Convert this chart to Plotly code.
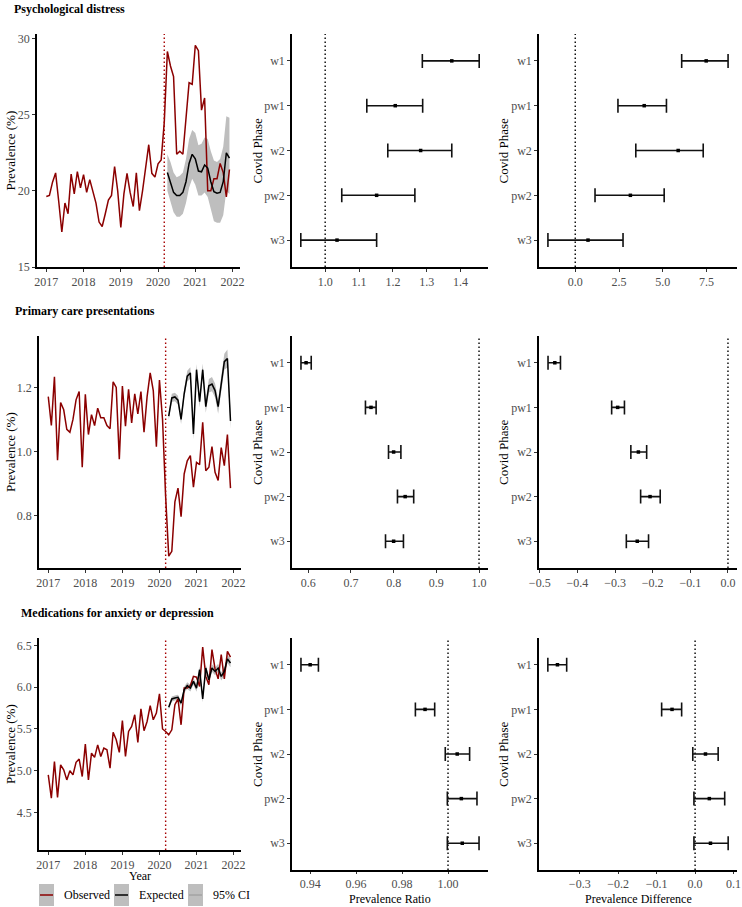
import plotly.graph_objects as go

W, H = 742, 907
FONT = "Liberation Serif"

# ---------------- data ----------------
years_tick = [2017, 2018, 2019, 2020, 2021, 2022]
month_idx = list(range(60))           # Jan 2017 .. Dec 2021
exp_idx = list(range(39, 60))         # Apr 2020 .. Dec 2021
covid_start = 2020 + 2 / 12           # March 2020

ps_obs = [19.63, 19.7, 20.57, 21.18, 19.3, 17.3, 19.2, 18.5, 21.1, 19.8,
          21.27, 20.2, 21.07, 19.9, 20.74, 19.9, 19.2, 17.95, 17.66, 18.5,
          19.4, 19.7, 21.6, 20.0, 17.6, 19.8, 21.15, 19.9, 18.97, 21.18,
          18.7, 20.0, 21.55, 23.03, 21.15, 20.9, 21.77, 22.03, 24.5, 29.15,
          28.2, 27.5, 22.4, 22.6, 22.4, 24.9, 27.1, 27.0, 29.56, 29.2,
          25.3, 26.1, 20.0, 20.0, 20.8, 20.8, 21.8, 21.2, 19.6, 21.4]
ps_exp = [21.2, 20.5, 19.9, 19.7, 19.7, 19.9, 20.6, 21.8, 22.4, 22.1, 21.3,
          21.25, 21.7, 21.5, 20.6, 19.95, 19.85, 19.9, 20.6, 22.5, 22.15]
ps_hi = [22.4, 21.9, 21.2, 20.9, 21.0, 21.2, 22.1, 23.4, 24.0, 23.8, 23.0,
         23.1, 23.5, 23.4, 22.6, 22.0, 21.9, 22.1, 22.9, 24.9, 24.8]
ps_lo = [20.0, 19.2, 18.6, 18.3, 18.3, 18.5, 19.2, 20.2, 20.8, 20.4, 19.7,
         19.7, 19.9, 19.6, 18.7, 18.0, 17.9, 17.9, 18.4, 20.0, 19.8]

mc_obs = [1.171, 1.081, 1.233, 0.973, 1.153, 1.13, 1.069, 1.06, 1.10, 1.161,
          1.187, 0.951, 1.178, 1.053, 1.115, 1.081, 1.135, 1.105, 1.105, 1.081,
          1.071, 1.217, 1.2, 0.976, 1.204, 1.079, 1.194, 1.089, 1.18, 1.117,
          1.187, 1.06, 1.171, 1.245, 1.19, 1.015, 1.223, 1.10, 0.86, 0.674,
          0.689, 0.843, 0.886, 0.797, 0.93, 0.971, 0.987, 0.889, 0.966, 0.959,
          1.091, 0.94, 0.951, 1.015, 0.935, 0.91, 1.012, 0.956, 1.053, 0.886]
mc_exp = [1.11, 1.167, 1.17, 1.16, 1.10, 1.18, 1.235, 1.245, 1.055, 1.255, 1.155,
          1.255, 1.14, 1.205, 1.21, 1.19, 1.14, 1.21, 1.28, 1.29, 1.095]
mc_hi = [1.122, 1.18, 1.183, 1.174, 1.114, 1.195, 1.252, 1.263, 1.072, 1.273, 1.173,
         1.274, 1.159, 1.226, 1.232, 1.212, 1.162, 1.234, 1.305, 1.318, 1.12]
mc_lo = [1.098, 1.154, 1.157, 1.146, 1.086, 1.165, 1.218, 1.227, 1.038, 1.237, 1.137,
         1.236, 1.121, 1.184, 1.188, 1.168, 1.118, 1.186, 1.255, 1.262, 1.07]

md_obs = [4.95, 4.67, 5.11, 4.68, 5.07, 5.01, 4.89, 5.0, 4.95, 5.1,
          5.14, 4.93, 5.32, 4.89, 5.21, 5.16, 5.31, 5.17, 5.27, 5.25,
          5.03, 5.46, 5.37, 5.22, 5.6, 5.17, 5.47, 5.53, 5.67, 5.34,
          5.74, 5.48, 5.59, 5.78, 5.61, 5.69, 5.92, 5.5, 5.47, 5.43,
          5.49, 5.79, 5.86, 5.55, 5.99, 5.99, 6.02, 6.13, 6.12, 6.01,
          6.48, 6.13, 6.03, 6.45, 6.22, 6.1, 6.39, 6.1, 6.43, 6.36]
md_exp = [5.76, 5.86, 5.87, 5.88, 5.81, 5.97, 6.02, 5.99, 6.07, 5.99, 6.21,
          5.86, 6.23, 6.09, 6.23, 6.19, 6.23, 6.13, 6.19, 6.34, 6.29]
md_hi = [5.79, 5.89, 5.9, 5.91, 5.845, 6.005, 6.06, 6.03, 6.11, 6.035, 6.25,
         5.9, 6.27, 6.135, 6.275, 6.235, 6.28, 6.18, 6.24, 6.39, 6.34]
md_lo = [5.73, 5.83, 5.84, 5.85, 5.775, 5.935, 5.98, 5.95, 6.03, 5.945, 6.17,
         5.82, 6.19, 6.045, 6.185, 6.145, 6.18, 6.08, 6.14, 6.29, 6.24]

phases = ["w1", "pw1", "w2", "pw2", "w3"]

ps_pr = [1.374, 1.207, 1.282, 1.152, 1.035]
ps_pr_lo = [1.287, 1.123, 1.185, 1.049, 0.928]
ps_pr_hi = [1.455, 1.288, 1.374, 1.265, 1.152]
ps_pd = [7.48, 3.94, 5.88, 3.15, 0.73]
ps_pd_lo = [6.08, 2.44, 3.46, 1.13, -1.56]
ps_pd_hi = [8.73, 5.21, 7.31, 5.08, 2.73]

mc_pr = [0.595, 0.747, 0.800, 0.827, 0.800]
mc_pr_lo = [0.583, 0.734, 0.788, 0.809, 0.781]
mc_pr_hi = [0.607, 0.759, 0.817, 0.847, 0.823]
mc_pd = [-0.460, -0.293, -0.238, -0.207, -0.241]
mc_pd_lo = [-0.478, -0.309, -0.258, -0.232, -0.270]
mc_pd_hi = [-0.445, -0.275, -0.216, -0.180, -0.211]

md_pr = [0.940, 0.990, 1.004, 1.0058, 1.0062]
md_pr_lo = [0.936, 0.9858, 0.9988, 0.9997, 0.9997]
md_pr_hi = [0.9436, 0.9942, 1.0094, 1.0126, 1.0135]
md_pd = [-0.358, -0.060, 0.027, 0.037, 0.040]
md_pd_lo = [-0.383, -0.087, -0.006, -0.003, -0.003]
md_pd_hi = [-0.334, -0.035, 0.060, 0.077, 0.086]

# ---------------- layout helpers ----------------
def px_x(a, b):
    return [a / W, b / W]

def px_y(top, bottom):
    return [1 - bottom / H, 1 - top / H]

def ax_ids(k):
    if k == 1:
        return "x", "y", "xaxis", "yaxis"
    return f"x{k}", f"y{k}", f"xaxis{k}", f"yaxis{k}"

RED = "#8B0000"
VLINE_RED = "#A50000"
RIBBON = "#BEBEBE"
DOT = "1.5px,2.5px"

fig = go.Figure()

axis_common = dict(showline=True, linecolor="black", linewidth=1.5,
                   ticks="outside", ticklen=3, tickwidth=1, tickcolor="#333333",
                   tickfont=dict(family=FONT, size=12, color="#4D4D4D"),
                   showgrid=False, zeroline=False, mirror=False, automargin=False)

rows_y = [(34, 267), (336, 568), (638, 850)]
forest_rows_y = [(34, 267), (336, 568), (638, 870)]
ts_x = [(37, 240), (39, 241), (39, 241)]
col_x = [(292, 488), (539, 737)]

ts_sets = [
    (ps_obs, ps_exp, ps_lo, ps_hi, [15, 30.3], [15, 20, 25, 30], None),
    (mc_obs, mc_exp, mc_lo, mc_hi, [0.637, 1.36], [0.8, 1.0, 1.2], ".1f"),
    (md_obs, md_exp, md_lo, md_hi, [4.05, 6.59], [4.5, 5.0, 5.5, 6.0, 6.5], ".1f"),
]
forest_sets = [
    [(ps_pr, ps_pr_lo, ps_pr_hi, [0.902, 1.481], [1.0, 1.1, 1.2, 1.3, 1.4], ".1f", 1.0),
     (ps_pd, ps_pd_lo, ps_pd_hi, [-2.07, 9.24], [0, 2.5, 5.0, 7.5], ".1f", 0.0)],
    [(mc_pr, mc_pr_lo, mc_pr_hi, [0.562, 1.021], [0.6, 0.7, 0.8, 0.9, 1.0], ".1f", 1.0),
     (mc_pd, mc_pd_lo, mc_pd_hi, [-0.502, 0.024], [-0.5, -0.4, -0.3, -0.2, -0.1, 0.0], ".1f", 0.0)],
    [(md_pr, md_pr_lo, md_pr_hi, [0.9321, 1.0174], [0.94, 0.96, 0.98, 1.00], ".2f", 1.0),
     (md_pd, md_pd_lo, md_pd_hi, [-0.406, 0.109], [-0.3, -0.2, -0.1, 0.0, 0.1], ".1f", 0.0)],
]

layout_axes = {}
shapes = []
annotations = []

for r in range(3):
    # --- time series panel ---
    k = r * 3 + 1
    xa, ya, xname, yname = ax_ids(k)
    obs, exp, lo, hi, yr, yt, yfmt = ts_sets[r]
    xm = [2017 + m / 12 for m in month_idx]
    xe = [2017 + m / 12 for m in exp_idx]
    fig.add_trace(go.Scatter(x=xe, y=lo, mode="lines", line=dict(width=0, color=RIBBON),
                             showlegend=False, hoverinfo="skip", xaxis=xa, yaxis=ya))
    fig.add_trace(go.Scatter(x=xe, y=hi, mode="lines", line=dict(width=0, color=RIBBON),
                             fill="tonexty", fillcolor=RIBBON, showlegend=False,
                             xaxis=xa, yaxis=ya))
    fig.add_trace(go.Scatter(x=xm, y=obs, mode="lines", line=dict(color=RED, width=1.5),
                             showlegend=False, xaxis=xa, yaxis=ya))
    fig.add_trace(go.Scatter(x=xe, y=exp, mode="lines", line=dict(color="black", width=1.5),
                             showlegend=False, xaxis=xa, yaxis=ya))
    layout_axes[xname] = dict(axis_common, domain=px_x(*ts_x[r]), anchor=ya,
                              range=[2016.75, 2022.2], tickvals=years_tick)
    yd = dict(axis_common, domain=px_y(*rows_y[r]), anchor=xa, range=yr, tickvals=yt)
    if yfmt:
        yd["tickformat"] = yfmt
    layout_axes[yname] = yd
    shapes.append(dict(type="line", xref=xa, yref=f"{ya} domain", x0=covid_start,
                       x1=covid_start, y0=0, y1=1,
                       line=dict(color=VLINE_RED, width=1.4, dash=DOT)))
    annotations.append(dict(text="Prevalence (%)", xref="paper", yref="paper",
                            x=10 / W, y=1 - (sum(rows_y[r]) / 2) / H, textangle=-90,
                            showarrow=False, font=dict(family=FONT, size=13, color="black"),
                            xanchor="center", yanchor="middle"))

    # --- forest panels ---
    for c in range(2):
        k = r * 3 + 2 + c
        xa, ya, xname, yname = ax_ids(k)
        est, elo, ehi, xr, xt, xfmt, ref = forest_sets[r][c]
        shapes.append(dict(type="line", xref=xa, yref=f"{ya} domain", x0=ref, x1=ref,
                           y0=0, y1=1, layer="below",
                           line=dict(color="black", width=1.4, dash=DOT)))
        fig.add_trace(go.Scatter(
            x=est, y=list(range(5)), mode="markers",
            marker=dict(color="black", size=3.5, symbol="square"),
            error_x=dict(type="data", symmetric=False,
                         array=[h - e for h, e in zip(ehi, est)],
                         arrayminus=[e - l for e, l in zip(est, elo)],
                         color="#111111", thickness=1.6, width=7),
            showlegend=False, xaxis=xa, yaxis=ya))
        xd = dict(axis_common, domain=px_x(*col_x[c]), anchor=ya,
                  range=xr, tickvals=xt, tickformat=xfmt)
        if r == 2:
            xd["ticklen"] = 2
        layout_axes[xname] = xd
        layout_axes[yname] = dict(axis_common, domain=px_y(*forest_rows_y[r]),
                                  anchor=xa, range=[4.6, -0.6],
                                  tickvals=list(range(5)), ticktext=phases)
        cx = 257 if c == 0 else 503
        annotations.append(dict(text="Covid Phase", xref="paper", yref="paper",
                                x=cx / W, y=1 - (sum(forest_rows_y[r]) / 2) / H,
                                textangle=-90, showarrow=False,
                                font=dict(family=FONT, size=13, color="black"),
                                xanchor="center", yanchor="middle"))

# titles
for txt, xx, yy in [("Psychological distress", 12, 9),
                    ("Primary care presentations", 13, 311),
                    ("Medications for anxiety or depression", 19, 613)]:
    annotations.append(dict(text=f"<b>{txt}</b>", xref="paper", yref="paper",
                            x=xx / W, y=1 - yy / H, xanchor="left", yanchor="middle",
                            showarrow=False, font=dict(family=FONT, size=12, color="black")))

# x-axis titles
for txt, xx, yy in [("Year", 140, 876), ("Prevalence Ratio", 390, 899),
                    ("Prevalence Difference", 638, 899)]:
    annotations.append(dict(text=txt, xref="paper", yref="paper", x=xx / W, y=1 - yy / H,
                            xanchor="center", yanchor="middle", showarrow=False,
                            font=dict(family=FONT, size=12, color="black")))

# legend (manual, ggplot style keys)
legend_items = [("Observed", 39, RED, 1.5), ("Expected", 114, "black", 1.5),
                ("95% CI", 188, "#8C8C8C", 0.8)]
for label, x0, col, lw in legend_items:
    shapes.append(dict(type="rect", xref="paper", yref="paper",
                       x0=x0 / W, x1=(x0 + 15) / W, y0=1 - 906 / H, y1=1 - 884 / H,
                       fillcolor=RIBBON, line=dict(width=0)))
    shapes.append(dict(type="line", xref="paper", yref="paper",
                       x0=(x0 + 1) / W, x1=(x0 + 14) / W, y0=1 - 895 / H, y1=1 - 895 / H,
                       line=dict(color=col, width=lw)))
    annotations.append(dict(text=label, xref="paper", yref="paper", x=(x0 + 23) / W,
                            y=1 - 895 / H, xanchor="left", yanchor="middle",
                            showarrow=False, font=dict(family=FONT, size=12, color="black")))

fig.update_layout(width=W, height=H, margin=dict(l=0, r=0, t=0, b=0),
                  paper_bgcolor="white", plot_bgcolor="white",
                  font=dict(family=FONT), showlegend=False,
                  shapes=shapes, annotations=annotations, **layout_axes)

fig.write_html("out.html", config={"displayModeBar": False},
               post_script="document.body.style.margin='0';"
                           "document.body.style.padding='0';"
                           "document.body.style.overflow='hidden';")
